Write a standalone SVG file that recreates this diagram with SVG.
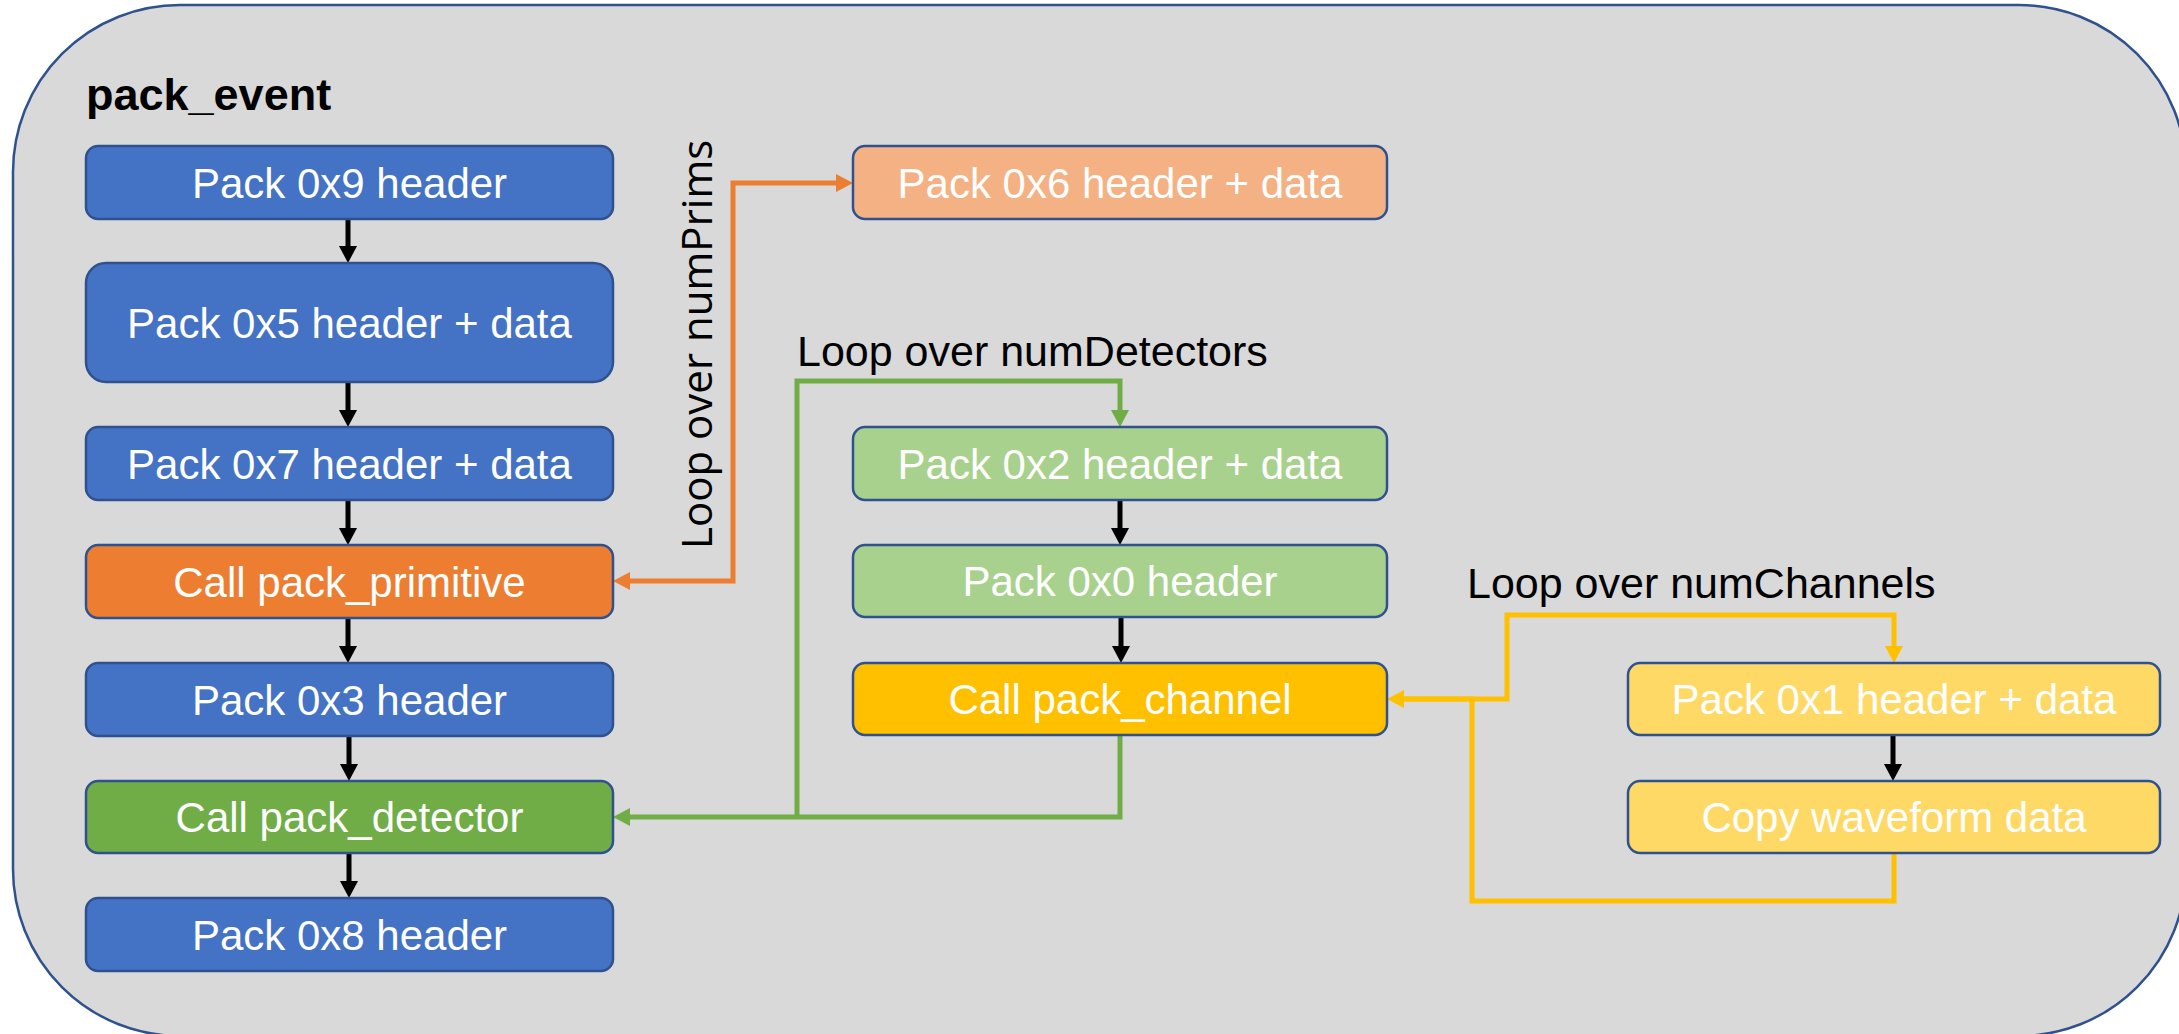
<svg xmlns="http://www.w3.org/2000/svg" width="2179" height="1034" viewBox="0 0 2179 1034">
<style>
.box{stroke:#2F528F;stroke-width:2.5}
.bt{font-family:"Liberation Sans",Arial,sans-serif;font-size:42px;fill:#FFFFFF;text-anchor:middle}
.lbl{font-family:"Liberation Sans",Arial,sans-serif;font-size:43px;fill:#000000}
.blue{fill:#4472C4}.orange{fill:#ED7D31}.lorange{fill:#F4B183}.green{fill:#70AD47}.lgreen{fill:#A9D18E}.gold{fill:#FFC000}.lgold{fill:#FFD966}
.c{fill:none;stroke-width:5;stroke-linejoin:miter}
</style>
<defs>
<marker id="ak" markerUnits="userSpaceOnUse" markerWidth="18" markerHeight="18" refX="0" refY="9" orient="auto"><path d="M0,0 L17,9 L0,18 z" fill="#000000"/></marker>
<marker id="ao" markerUnits="userSpaceOnUse" markerWidth="18" markerHeight="18" refX="0" refY="9" orient="auto-start-reverse"><path d="M0,0 L17,9 L0,18 z" fill="#ED7D31"/></marker>
<marker id="ag" markerUnits="userSpaceOnUse" markerWidth="18" markerHeight="18" refX="0" refY="9" orient="auto"><path d="M0,0 L17,9 L0,18 z" fill="#70AD47"/></marker>
<marker id="ay" markerUnits="userSpaceOnUse" markerWidth="18" markerHeight="18" refX="0" refY="9" orient="auto"><path d="M0,0 L17,9 L0,18 z" fill="#FFC000"/></marker>
</defs>
<rect width="2179" height="1034" fill="#FFFFFF"/>
<g id="container">
<rect x="13" y="5" width="2173" height="1031" rx="167" ry="167" fill="#D9D9D9" stroke="#2F528F" stroke-width="2.5"/>
<text x="86" y="110" font-family="'Liberation Sans',Arial,sans-serif" font-size="45" font-weight="bold" fill="#000000">pack_event</text>
</g>
<g id="connectors">
<g stroke="#000000" class="c">
<path d="M348,219 V246" marker-end="url(#ak)"/>
<path d="M348,382 V410" marker-end="url(#ak)"/>
<path d="M348,500 V528" marker-end="url(#ak)"/>
<path d="M348,618 V646" marker-end="url(#ak)"/>
<path d="M349,736 V764" marker-end="url(#ak)"/>
<path d="M349,853 V881" marker-end="url(#ak)"/>
<path d="M1120,500 V528" marker-end="url(#ak)"/>
<path d="M1121,617 V646" marker-end="url(#ak)"/>
<path d="M1893,735 V764" marker-end="url(#ak)"/>
</g>
<path class="c" stroke="#ED7D31" d="M630,581 H733 V183 H836" marker-start="url(#ao)" marker-end="url(#ao)"/>
<path class="c" stroke="#70AD47" d="M797,817 V381 H1120 V410" marker-end="url(#ag)"/>
<path class="c" stroke="#70AD47" d="M1120,735 V817 H630" marker-end="url(#ag)"/>
<path class="c" stroke="#FFC000" d="M1404,699 H1507 V615 H1894 V646" marker-end="url(#ay)"/>
<path class="c" stroke="#FFC000" d="M1894,853 V901 H1472 V699 H1404" marker-end="url(#ay)"/>
</g>
<g id="n_0x9"><rect class="box blue" x="86" y="146" width="527" height="73" rx="12"/><text class="bt" x="349.5" y="198">Pack 0x9 header</text></g>
<g id="n_0x5"><rect class="box blue" x="86" y="263" width="527" height="119" rx="20"/><text class="bt" x="349.5" y="338">Pack 0x5 header + data</text></g>
<g id="n_0x7"><rect class="box blue" x="86" y="427" width="527" height="73" rx="12"/><text class="bt" x="349.5" y="479">Pack 0x7 header + data</text></g>
<g id="n_prim"><rect class="box orange" x="86" y="545" width="527" height="73" rx="12"/><text class="bt" x="349.5" y="597">Call pack_primitive</text></g>
<g id="n_0x3"><rect class="box blue" x="86" y="663" width="527" height="73" rx="12"/><text class="bt" x="349.5" y="715">Pack 0x3 header</text></g>
<g id="n_det"><rect class="box green" x="86" y="781" width="527" height="72" rx="12"/><text class="bt" x="349.5" y="832">Call pack_detector</text></g>
<g id="n_0x8"><rect class="box blue" x="86" y="898" width="527" height="73" rx="12"/><text class="bt" x="349.5" y="950">Pack 0x8 header</text></g>
<g id="n_0x6"><rect class="box lorange" x="853" y="146" width="534" height="73" rx="12"/><text class="bt" x="1120" y="198">Pack 0x6 header + data</text></g>
<g id="n_0x2"><rect class="box lgreen" x="853" y="427" width="534" height="73" rx="12"/><text class="bt" x="1120" y="479">Pack 0x2 header + data</text></g>
<g id="n_0x0"><rect class="box lgreen" x="853" y="545" width="534" height="72" rx="12"/><text class="bt" x="1120" y="596">Pack 0x0 header</text></g>
<g id="n_chan"><rect class="box gold" x="853" y="663" width="534" height="72" rx="12"/><text class="bt" x="1120" y="714">Call pack_channel</text></g>
<g id="n_0x1"><rect class="box lgold" x="1628" y="663" width="532" height="72" rx="12"/><text class="bt" x="1894" y="714">Pack 0x1 header + data</text></g>
<g id="n_copy"><rect class="box lgold" x="1628" y="781" width="532" height="72" rx="12"/><text class="bt" x="1894" y="832">Copy waveform data</text></g>
<g id="labels">
<text class="lbl" x="712" y="549" transform="rotate(-90 712 549)" style="font-family:'Open Sans','Liberation Sans',sans-serif;font-size:42px">Loop over numPrims</text>
<text class="lbl" x="797" y="366">Loop over numDetectors</text>
<text class="lbl" x="1467" y="598">Loop over numChannels</text>
</g>
</svg>
